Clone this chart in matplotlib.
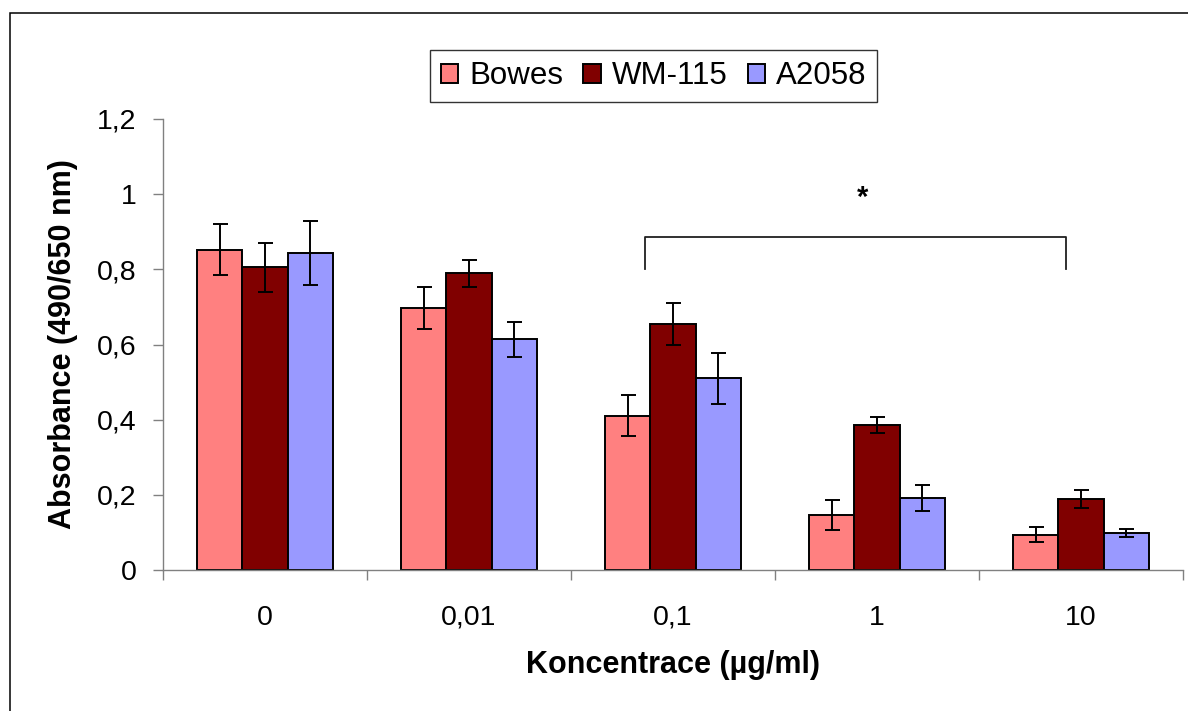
import matplotlib as mpl
import matplotlib.pyplot as plt
import matplotlib.ticker as ticker
import numpy as np
from matplotlib.patches import Rectangle

mpl.rcParams['font.family'] = ['Liberation Sans', 'DejaVu Sans']

CONCENTRATIONS = ['0', '0,01', '0,1', '1', '10']
SERIES = ['Bowes', 'WM-115', 'A2058']
BOWES = [0.852, 0.697, 0.411, 0.146, 0.094]
BOWES_ERR = [0.068, 0.057, 0.054, 0.040, 0.020]
WM115 = [0.805, 0.789, 0.655, 0.385, 0.188]
WM115_ERR = [0.066, 0.037, 0.055, 0.021, 0.024]
A2058 = [0.843, 0.614, 0.510, 0.192, 0.099]
A2058_ERR = [0.086, 0.047, 0.067, 0.035, 0.010]
Y_TICKS = [0, 0.2, 0.4, 0.6, 0.8, 1.0, 1.2]
Y_TICK_LABELS = ['0', '0,2', '0,4', '0,6', '0,8', '1', '1,2']

COLORS = {'Bowes': '#FF8080', 'WM-115': '#800000', 'A2058': '#9999FF'}
AXIS_GREY = '#808080'


def plot_absorbance(output_file: str) -> None:
    fig = plt.figure(figsize=(11.88, 7.11), dpi=100)
    ax = fig.add_axes([163 / 1188, 1 - 570 / 711, 1020 / 1188, 451 / 711])

    # outer chart frame (cropped on right and bottom in the original)
    fig.patches.append(Rectangle((10 / 1188, -0.1), 1.2, 0.1 + (1 - 13 / 711),
                                 transform=fig.transFigure, fill=False,
                                 edgecolor='black', linewidth=1.1))

    x = np.arange(len(CONCENTRATIONS))
    width = 0.222
    data = [(BOWES, BOWES_ERR), (WM115, WM115_ERR), (A2058, A2058_ERR)]
    for i, (name, (vals, errs)) in enumerate(zip(SERIES, data)):
        ax.bar(x + (i - 1) * width, vals, width,
               color=COLORS[name], edgecolor='black', linewidth=1.4,
               label=name, zorder=2)
        ax.errorbar(x + (i - 1) * width, vals, yerr=errs, fmt='none',
                    ecolor='black', elinewidth=1.4, capsize=5.4,
                    capthick=1.4, zorder=3)

    # significance bracket between 0,1 and 10
    br_left, br_right, br_top, br_bottom = 1.863, 3.926, 0.886, 0.800
    ax.plot([br_left, br_left, br_right, br_right],
            [br_bottom, br_top, br_top, br_bottom],
            color='#202020', linewidth=1.3, zorder=3)
    ax.text((br_left + br_right) / 2 + 0.035, 0.99, '*', ha='center',
            va='center', fontsize=21, fontweight='bold')

    ax.set_xlim(-0.5, len(CONCENTRATIONS) - 0.5)
    ax.xaxis.set_major_locator(ticker.FixedLocator(np.arange(-0.5, len(CONCENTRATIONS), 1.0)))
    ax.xaxis.set_major_formatter(ticker.NullFormatter())
    ax.xaxis.set_minor_locator(ticker.FixedLocator(x))
    ax.xaxis.set_minor_formatter(ticker.FixedFormatter(CONCENTRATIONS))
    ax.tick_params(axis='x', which='major', direction='out', length=7,
                   width=1, color=AXIS_GREY)
    ax.tick_params(axis='x', which='minor', length=0, pad=25, labelsize=20.5)

    ax.set_ylim(0, 1.2)
    ax.set_yticks(Y_TICKS)
    ax.set_yticklabels(Y_TICK_LABELS)
    ax.tick_params(axis='y', direction='out', length=7, width=1,
                   color=AXIS_GREY, pad=12, labelsize=20.5)

    for side in ['top', 'right']:
        ax.spines[side].set_visible(False)
    for side in ['left', 'bottom']:
        ax.spines[side].set_color(AXIS_GREY)
        ax.spines[side].set_linewidth(1.0)

    ax.set_xlabel('Koncentrace (µg/ml)', fontsize=22, fontweight='bold',
                  labelpad=14)
    ax.set_ylabel('Absorbance (490/650 nm)', fontsize=22, fontweight='bold',
                  labelpad=14)

    leg = ax.legend(ncol=3, loc='center', bbox_to_anchor=(0.481, 1.095),
                    fontsize=22.5, frameon=True, fancybox=False,
                    handlelength=0.55, handleheight=0.55, handletextpad=0.35,
                    columnspacing=0.65, borderpad=0.35, borderaxespad=0)
    leg.get_frame().set_edgecolor('black')
    leg.get_frame().set_linewidth(1.0)

    plt.savefig(output_file, dpi=100)
    plt.close()


def main() -> None:
    plot_absorbance('out.png')


if __name__ == '__main__':
    main()
